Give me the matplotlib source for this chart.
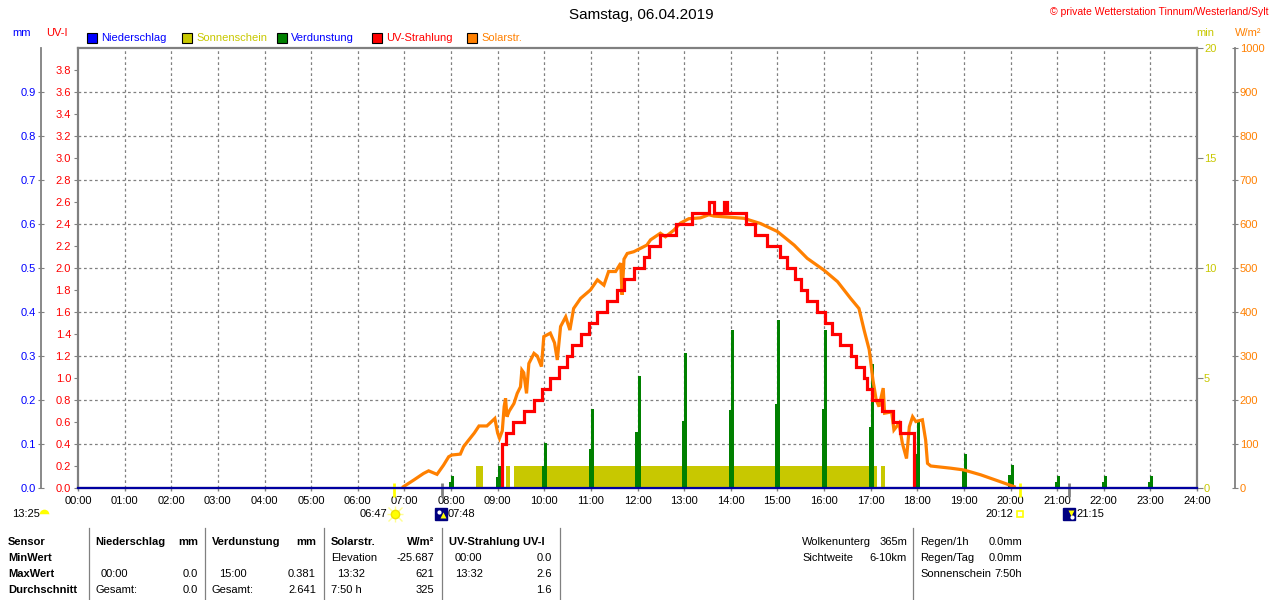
import matplotlib
matplotlib.use('Agg')
import matplotlib.pyplot as plt
import numpy as np

plt.rcParams['font.family'] = ['Liberation Sans', 'DejaVu Sans']
plt.rcParams['font.size'] = 8

# ---------------- data ----------------
hours = list(range(25))
hour_labels = [f"{h:02d}:00" for h in hours]

# Solar radiation (W/m2)
solar_t = [6.98, 7.2, 7.41, 7.52, 7.7, 7.84, 7.95, 8.02, 8.2, 8.27, 8.38, 8.5, 8.6, 8.77,
           8.86, 8.94, 9.0, 9.04, 9.1, 9.14, 9.17, 9.2, 9.25, 9.35, 9.42, 9.49, 9.52, 9.56,
           9.62, 9.67, 9.78, 9.85, 9.94, 9.99, 10.13, 10.22, 10.28, 10.35, 10.46, 10.55,
           10.63, 10.78, 10.99, 11.14, 11.28, 11.38, 11.53, 11.64, 11.67, 11.71, 11.78,
           11.92, 12.07, 12.2, 12.28, 12.49, 12.6, 12.78, 12.92, 13.1, 13.35, 13.53, 13.64,
           13.9, 14.28, 14.64, 15.0, 15.36, 15.64, 16.0, 16.29, 16.57, 16.75, 16.86, 16.97,
           17.05, 17.12, 17.18, 17.27, 17.3, 17.45, 17.5, 17.61, 17.68, 17.77, 17.83, 17.9,
           17.97, 18.11, 18.18, 18.22, 18.29, 18.72, 19.0, 19.36, 19.79, 20.08]
solar_w = [3, 18, 33, 39, 31, 52, 71, 75, 77, 94, 109, 125, 141, 141,
           150, 158, 125, 113, 130, 185, 204, 162, 175, 192, 215, 230, 268, 262,
           215, 283, 306, 300, 276, 344, 352, 330, 291, 367, 389, 359,
           408, 431, 450, 473, 461, 492, 492, 511, 439, 520, 533,
           537, 545, 552, 564, 579, 571, 586, 602, 612, 614, 621, 618,
           616, 613, 601, 583, 552, 522, 495, 469, 431, 408, 359, 314,
           245, 200, 185, 227, 170, 173, 132, 147, 102, 67, 139, 162,
           151, 155, 109, 56, 50, 45, 41, 30, 14, 3]

# UV index (step values, start times)
uv_t = [9.08, 9.09, 9.17, 9.33, 9.56, 9.78, 9.96, 10.13, 10.31, 10.49, 10.6, 10.78, 10.96,
        11.13, 11.35, 11.56, 11.71, 11.92, 12.14, 12.24, 12.49, 12.82, 13.17, 13.53, 13.64,
        13.86, 13.92, 14.32, 14.53, 14.77, 15.06, 15.21, 15.37, 15.5, 15.64, 15.84, 16.02,
        16.18, 16.34, 16.57, 16.68, 16.86, 16.93, 17.04, 17.25, 17.47, 17.64, 17.93]
uv_v = [0.0, 0.4, 0.5, 0.6, 0.7, 0.8, 0.9, 1.0, 1.1, 1.2, 1.3, 1.4, 1.5,
        1.6, 1.7, 1.8, 1.9, 2.0, 2.1, 2.2, 2.3, 2.4, 2.5, 2.6, 2.5,
        2.6, 2.5, 2.4, 2.3, 2.2, 2.1, 2.0, 1.9, 1.8, 1.7, 1.6, 1.5,
        1.4, 1.3, 1.2, 1.1, 1.0, 0.9, 0.8, 0.7, 0.6, 0.5, 0.0]

# Evaporation (mm)
evap_t = [8, 9, 10, 11, 12, 13, 14, 15, 16, 17, 18, 19, 20, 21, 22, 23]
evap_main = [0.027, 0.051, 0.103, 0.179, 0.255, 0.306, 0.358, 0.381, 0.358, 0.281,
             0.153, 0.077, 0.052, 0.027, 0.027, 0.027]
evap_second = [0.014, 0.026, 0.05, 0.088, 0.127, 0.153, 0.177, 0.19, 0.18, 0.139,
               0.077, 0.04, 0.03, 0.014, 0.014, 0.014]

# Sunshine (min)
sun_start = [8.54, 9.17, 9.36, 17.22]
sun_end = [8.69, 9.26, 17.13, 17.31]
sun_min = [1.0, 1.0, 1.0, 1.0]

# Precipitation (mm)
rain_t = [0, 24]
rain_mm = [0.0, 0.0]

# Axis ticks
uv_ticks = [round(0.2 * i, 1) for i in range(20)]
mm_ticks = [round(0.1 * i, 1) for i in range(10)]
min_ticks = [0, 5, 10, 15, 20]
w_ticks = list(range(0, 1001, 100))

# Sun / moon events
sunrise, sunset = 6.783, 20.2
moonrise, moonset = 7.8, 21.25

title = "Samstag, 06.04.2019"

rowlabels = ["MinWert", "MaxWert", "Durchschnitt"]

# ---------------- figure ----------------
W, H = 1280, 600
fig = plt.figure(figsize=(12.8, 6.0), dpi=100)
fig.patch.set_facecolor('white')


def fx(x):
    return x / W


def fy(y):
    return 1 - y / H


def T(x, y, s, ha='left', color='black', weight='normal', size=8):
    fig.text(fx(x), fy(y), s, ha=ha, va='center', color=color, fontweight=weight, fontsize=size)


L, R, TOP, BOT = 78, 1197, 48, 488
rect = [fx(L), fy(BOT), (R - L) / W, (BOT - TOP) / H]
GRAY = '#808080'
RED, ORANGE, GREEN, OLIVE, BLUE = '#ff0000', '#ff8000', '#008000', '#c8c800', '#0000ff'

ax_bg = fig.add_axes(rect)
ax_bg.set_xlim(0, 24)
ax_bg.set_ylim(0, 4)
for s in ax_bg.spines.values():
    s.set_color(GRAY)
    s.set_linewidth(1.6)
for h in hours[1:-1]:
    ax_bg.axvline(h, color=GRAY, lw=0.9, ls=(0, (2.2, 2.2)), zorder=0)
for v in [0.4 * i for i in range(1, 10)]:
    ax_bg.axhline(v, color=GRAY, lw=0.9, ls=(0, (2.2, 2.2)), zorder=0)
ax_bg.set_xticks(hours)
ax_bg.set_xticklabels(hour_labels)
ax_bg.tick_params(axis='x', direction='out', length=2.5, width=1, color=GRAY, pad=3, labelsize=8)
ax_bg.set_yticks(uv_ticks)
ax_bg.set_yticklabels([f"{v:.1f}" for v in uv_ticks])
ax_bg.tick_params(axis='y', direction='out', length=3, color=GRAY, labelcolor=RED, pad=2, labelsize=8)

# sunshine (min axis, right border)
ax_min = ax_bg.twinx()
ax_min.set_ylim(0, 20)
for s in ax_min.spines.values():
    s.set_visible(False)
ax_min.bar(sun_start, sun_min, width=np.subtract(sun_end, sun_start), align='edge',
           color=OLIVE, linewidth=0)
ax_min.set_yticks(min_ticks)
ax_min.tick_params(axis='y', direction='out', length=4, color=GRAY, labelcolor=OLIVE, pad=1, labelsize=8)

# evaporation (mm axis, left outer)
ax_mm = ax_bg.twinx()
ax_mm.set_ylim(0, 1.0)
for k, s in ax_mm.spines.items():
    s.set_visible(k == 'left')
ax_mm.spines['left'].set_position(('axes', (40.5 - L) / (R - L)))
ax_mm.spines['left'].set_color(GRAY)
ax_mm.spines['left'].set_linewidth(1.3)
ax_mm.yaxis.set_ticks_position('left')
ax_mm.yaxis.set_label_position('left')
ax_mm.set_yticks(mm_ticks)
ax_mm.set_yticklabels([f"{v:.1f}" for v in mm_ticks])
ax_mm.tick_params(axis='y', direction='inout', length=5, color=GRAY, labelcolor=BLUE, pad=1, labelsize=8)
ax_mm.bar(np.array(evap_t) - 0.045, evap_second, width=0.045, align='edge', color=GREEN, linewidth=0)
ax_mm.bar(evap_t, evap_main, width=0.065, align='edge', color=GREEN, linewidth=0)

# solar radiation (W/m2 axis, right outer)
ax_w = ax_bg.twinx()
ax_w.set_ylim(0, 1000)
for k, s in ax_w.spines.items():
    s.set_visible(k == 'right')
ax_w.spines['right'].set_position(('axes', (1235 - L) / (R - L)))
ax_w.spines['right'].set_color(GRAY)
ax_w.spines['right'].set_linewidth(1.3)
ax_w.set_yticks(w_ticks)
ax_w.tick_params(axis='y', direction='inout', length=5, color=GRAY, labelcolor=ORANGE, pad=1, labelsize=8)
ax_w.plot(solar_t, solar_w, color=ORANGE, lw=2.3, solid_joinstyle='miter')

# UV index
ax_uv = ax_bg.twinx()
ax_uv.set_ylim(0, 4)
ax_uv.set_yticks([])
for s in ax_uv.spines.values():
    s.set_visible(False)
ax_uv.plot(uv_t, uv_v, color=RED, lw=2.3, drawstyle='steps-post', solid_joinstyle='miter')

# precipitation
ax_rain = ax_bg.twinx()
ax_rain.set_ylim(0, 1.0)
ax_rain.set_yticks([])
for s in ax_rain.spines.values():
    s.set_visible(False)
ax_rain.plot(rain_t, rain_mm, color='#0000a0', lw=1.6, clip_on=False)

for a in (ax_min, ax_mm, ax_w, ax_uv, ax_rain):
    a.set_xlim(0, 24)

# sun/moon event marks below the axis
for t, c in [(sunrise, '#ffff00'), (sunset, '#ffff00'), (moonrise, GRAY), (moonset, GRAY)]:
    ax_uv.plot([t, t], [0.045, -0.082], color=c, lw=2, clip_on=False, solid_capstyle='butt')

# ---------------- texts ----------------
T(641, 15, title, ha='center', size=11)
T(1269, 12, "© private Wetterstation Tinnum/Westerland/Sylt", ha='right', color=RED, size=7.5)

T(22, 33, "mm", ha='center', color=BLUE)
T(57, 33, "UV-I", ha='center', color=RED)
T(1205, 33, "min", ha='center', color=OLIVE)
T(1248, 33, "W/m²", ha='center', color=ORANGE)

legend = [(92, "Niederschlag", BLUE, BLUE), (187, "Sonnenschein", OLIVE, OLIVE),
          (282, "Verdunstung", GREEN, BLUE), (377, "UV-Strahlung", RED, RED),
          (472, "Solarstr.", ORANGE, ORANGE)]
for x, lab, fc, tc in legend:
    fig.add_artist(plt.Line2D([fx(x)], [fy(38)], marker='s', markersize=7, markerfacecolor=fc,
                              markeredgecolor='black', markeredgewidth=0.8, linestyle='none',
                              transform=fig.transFigure))
    T(x + 9, 38, lab, color=tc)

# event labels under the axis
T(12, 514, "13:25")
fig.add_artist(plt.Line2D([fx(44)], [fy(514)], marker='o', markersize=7, fillstyle='top',
                          markerfacecolor='#ffff00', markerfacecoloralt='white',
                          markeredgecolor='none', linestyle='none', transform=fig.transFigure))
T(387, 514, "06:47", ha='right')
for m, ms, col in [('+', 12, '#ffff90'), ('x', 10, '#ffff90'), ('o', 6, '#ffff00')]:
    fig.add_artist(plt.Line2D([fx(395)], [fy(514)], marker=m, markersize=ms, markerfacecolor=col,
                              markeredgecolor=col if m != 'o' else '#f0e000', linestyle='none',
                              transform=fig.transFigure))
T(448, 514, "07:48")
T(1013, 514, "20:12", ha='right')
fig.add_artist(plt.Line2D([fx(1020)], [fy(514)], marker='s', markersize=4, markerfacecolor='white',
                          markeredgecolor='#ffff00', markeredgewidth=1.2, linestyle='none',
                          transform=fig.transFigure))
T(1076, 514, "21:15")
for cx, arrow, dotdx, dotdy in [(441, '^', -2.5, -2.5), (1069, 'v', 2.5, 2.5)]:
    fig.add_artist(plt.Line2D([fx(cx)], [fy(514)], marker='s', markersize=8, markerfacecolor='#000080',
                              markeredgecolor='#000080', linestyle='none', transform=fig.transFigure))
    fig.add_artist(plt.Line2D([fx(cx + dotdx)], [fy(514 + dotdy)], marker='o', markersize=3,
                              markerfacecolor='white', markeredgecolor='none', linestyle='none',
                              transform=fig.transFigure))
    fig.add_artist(plt.Line2D([fx(cx + 1.5)], [fy(514 + (1 if arrow == '^' else -1))], marker=arrow,
                              markersize=4, markerfacecolor='#ffff00', markeredgecolor='none',
                              linestyle='none', transform=fig.transFigure))

# ---------------- bottom table ----------------
r0, r1, r2, r3 = 542, 558, 574, 590
for x in [89, 205, 324, 442, 560, 913]:
    fig.add_artist(plt.Line2D([fx(x), fx(x)], [fy(528), fy(600)], color=GRAY, lw=0.9,
                              transform=fig.transFigure))

T(8, r0, "Sensor", weight='bold')
T(8, r1, rowlabels[0], weight='bold')
T(8, r2, rowlabels[1], weight='bold')
T(8, r3, rowlabels[2], weight='bold')
T(95, r0, "Niederschlag", weight='bold')
T(198, r0, "mm", ha='right', weight='bold')
T(212, r0, "Verdunstung", weight='bold')
T(316, r0, "mm", ha='right', weight='bold')
T(331, r0, "Solarstr.", weight='bold')
T(434, r0, "W/m²", ha='right', weight='bold')
T(449, r0, "UV-Strahlung UV-I", weight='bold')

T(331, r1, "Elevation")
T(434, r1, "-25.687", ha='right')
T(455, r1, "00:00")
T(552, r1, "0.0", ha='right')

T(101, r2, "00:00")
T(198, r2, "0.0", ha='right')
T(219, r2, "15:00")
T(316, r2, "0.381", ha='right')
T(337, r2, "13:32")
T(434, r2, "621", ha='right')
T(455, r2, "13:32")
T(552, r2, "2.6", ha='right')

T(95, r3, "Gesamt:")
T(198, r3, "0.0", ha='right')
T(212, r3, "Gesamt:")
T(316, r3, "2.641", ha='right')
T(331, r3, "7:50 h")
T(434, r3, "325", ha='right')
T(552, r3, "1.6", ha='right')

T(802, r0, "Wolkenunterg")
T(907, r0, "365m", ha='right')
T(802, r1, "Sichtweite")
T(907, r1, "6-10km", ha='right')
T(920, r0, "Regen/1h")
T(1022, r0, "0.0mm", ha='right')
T(920, r1, "Regen/Tag")
T(1022, r1, "0.0mm", ha='right')
T(920, r2, "Sonnenschein")
T(1022, r2, "7:50h", ha='right')

fig.savefig('out.png', dpi=100, facecolor='white')
